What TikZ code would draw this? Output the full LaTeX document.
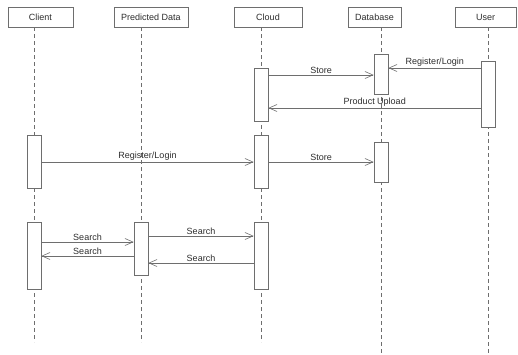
\documentclass[tikz,border=0pt]{standalone}
\usepackage{fontspec}
\setmainfont{Liberation Sans}
\usepackage{tikz}
\usepackage{xcolor}
\usetikzlibrary{positioning, calc, arrows.meta}
\definecolor{lineGray}{RGB}{110,110,110}
\definecolor{textGray}{RGB}{45,45,45}
\tikzset{
    head/.style={draw=lineGray, line width=0.6pt, fill=white, minimum height=20pt, inner sep=0pt, font=\fontsize{9}{10}\selectfont, text=textGray},
    life/.style={lineGray, line width=0.6pt, dash pattern=on 4pt off 3pt},
    act/.style={draw=lineGray, line width=0.6pt, fill=white, minimum width=14pt, inner sep=0pt},
    msg/.style={lineGray, line width=0.6pt, -{Straight Barb[length=8pt, width=7pt]}},
    lbl/.style={above, inner sep=1.5pt, font=\fontsize{9}{10}\selectfont, text=textGray}
}

\begin{document}
\begin{tikzpicture}[x=1pt, y=-1pt]
    \useasboundingbox (0,0) rectangle (518,354);
    % participants
    \node[head, minimum width=65pt] (client) at (40.5,17) {Client};
    \node[head, minimum width=74pt] (pred) at (151,17) {Predicted Data};
    \node[head, minimum width=68pt] (cloud) at (268,17) {Cloud};
    \node[head, minimum width=53pt] (db) at (374.5,17) {Database};
    \node[head, minimum width=61pt] (user) at (485.5,17) {User};
    % lifelines
    \draw[life] (34,27) -- (34,342);
    \draw[life] (141,27) -- (141,342);
    \draw[life] (261,27) -- (261,342);
    \draw[life] (381,27) -- (381,354);
    \draw[life] (488.5,27) -- (488.5,354);
    % activations
    \node[act, minimum height=40pt] (dbA) at (381,74) {};
    \node[act, minimum height=53pt] (cloudA) at (261,94.5) {};
    \node[act, minimum height=66pt] (userA) at (488.5,94) {};
    \node[act, minimum height=53pt] (clientB) at (34,161.5) {};
    \node[act, minimum height=53pt] (cloudB) at (261,161.5) {};
    \node[act, minimum height=40pt] (dbB) at (381,162) {};
    \node[act, minimum height=67pt] (clientC) at (34,255.5) {};
    \node[act, minimum height=53pt] (predC) at (141,248.5) {};
    \node[act, minimum height=67pt] (cloudC) at (261,255.5) {};
    % messages
    \draw[msg] (userA.west |- 0,68) -- node[lbl] {Register/Login} (dbA.east |- 0,68);
    \draw[msg] (cloudA.east |- 0,75) -- node[lbl] {Store} (dbA.west |- 0,75);
    \draw[msg] (userA.west |- 0,108) -- node[lbl] {Product Upload} (cloudA.east |- 0,108);
    \draw[msg] (clientB.east |- 0,162) -- node[lbl] {Register/Login} (cloudB.west |- 0,162);
    \draw[msg] (cloudB.east |- 0,162) -- node[lbl] {Store} (dbB.west |- 0,162);
    \draw[msg] (predC.east |- 0,236) -- node[lbl] {Search} (cloudC.west |- 0,236);
    \draw[msg] (clientC.east |- 0,242) -- node[lbl] {Search} (predC.west |- 0,242);
    \draw[msg] (predC.west |- 0,256) -- node[lbl] {Search} (clientC.east |- 0,256);
    \draw[msg] (cloudC.west |- 0,263) -- node[lbl] {Search} (predC.east |- 0,263);
\end{tikzpicture}
\end{document}
